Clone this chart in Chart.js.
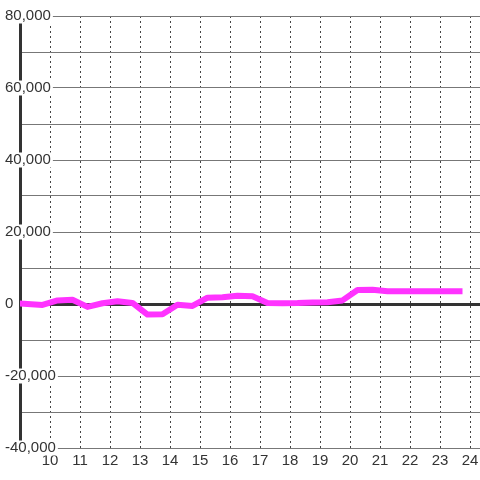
<!DOCTYPE html>
<html>
<head>
<meta charset="utf-8">
<script src="https://cdn.jsdelivr.net/npm/chart.js@4/dist/chart.umd.min.js"></script>
<style>
html,body{margin:0;padding:0;background:#fff;}
#wrap{width:480px;height:480px;}
</style>
</head>
<body>
<div id="wrap"><canvas id="c" width="480" height="480"></canvas></div>
<script>
// Sample times (hours) and values
const hours = [8.75, 9.25, 9.75, 10.25, 10.75, 11.25, 11.75, 12.25, 12.75, 13.25, 13.75,
               14.25, 14.75, 15.25, 15.75, 16.25, 16.75, 17.25, 17.75, 18.25, 18.75,
               19.25, 19.75, 20.25, 20.75, 21.25, 21.75, 22.25, 22.75, 23.25, 23.75];
const values = [300, 0, -250, 1000, 1200, -800, 200, 750, 300, -2950, -2850,
                -200, -550, 1750, 1900, 2300, 2150, 300, 200, 250, 400,
                500, 1000, 3900, 3950, 3550, 3550, 3550, 3550, 3550, 3550];
// Labelled x ticks (hour of day)
const xTickLabels = [10, 11, 12, 13, 14, 15, 16, 17, 18, 19, 20, 21, 22, 23, 24];
// Labelled y ticks
const yTickLabels = [-40000, -20000, 0, 20000, 40000, 60000, 80000];

const FONT = 'Liberation Sans, Arial, sans-serif';

new Chart(document.getElementById('c'), {
  type: 'line',
  data: {
    datasets: [{
      data: hours.map((h, i) => ({x: h, y: values[i]})),
      borderColor: '#ff33ff',
      backgroundColor: '#ff33ff',
      borderWidth: 6,
      pointRadius: 0,
      pointHoverRadius: 0,
      tension: 0,
      fill: false,
      borderJoinStyle: 'round',
      borderCapStyle: 'butt'
    }]
  },
  options: {
    responsive: false,
    animation: false,
    devicePixelRatio: 1,
    layout: {padding: {top: 16, left: 5, right: 0, bottom: 0}},
    plugins: {legend: {display: false}, tooltip: {enabled: false}, title: {display: false}},
    scales: {
      x: {
        type: 'linear',
        min: 9,
        max: 24.3333,
        afterFit(s) { s.height = 32; s.paddingLeft = 0; s.paddingRight = 0; },
        ticks: {
          stepSize: 1,
          includeBounds: false,
          autoSkip: false,
          maxRotation: 0,
          minRotation: 0,
          padding: 4,
          color: '#333',
          font: {family: FONT, size: 15},
          callback: v => xTickLabels.includes(v) ? String(v) : ''
        },
        grid: {color: '#444', lineWidth: 1, drawTicks: false},
        border: {display: false, dash: [2, 3]}
      },
      y: {
        type: 'linear',
        min: -40000,
        max: 80000,
        afterFit(s) { s.width = 15; s.paddingTop = 0; s.paddingBottom = 0; },
        ticks: {
          stepSize: 10000,
          mirror: true,
          crossAlign: 'near',
          padding: -15,
          z: 1,
          color: '#333',
          font: {family: FONT, size: 15, lineHeight: 1.0},
          callback: v => yTickLabels.includes(v) ? v.toLocaleString('en-US') : '',
          showLabelBackdrop: ctx => !!(ctx.tick && yTickLabels.includes(ctx.tick.value)),
          backdropColor: '#ffffff',
          backdropPadding: {left: 1, right: 2, top: 0, bottom: 0}
        },
        grid: {
          drawTicks: false,
          color: ctx => (ctx.tick && ctx.tick.value === 0) ? '#333333' : '#777777',
          lineWidth: ctx => (ctx.tick && ctx.tick.value === 0) ? 3 : 1
        },
        border: {display: true, width: 3, color: '#333333'}
      }
    }
  }
});
</script>
</body>
</html>
